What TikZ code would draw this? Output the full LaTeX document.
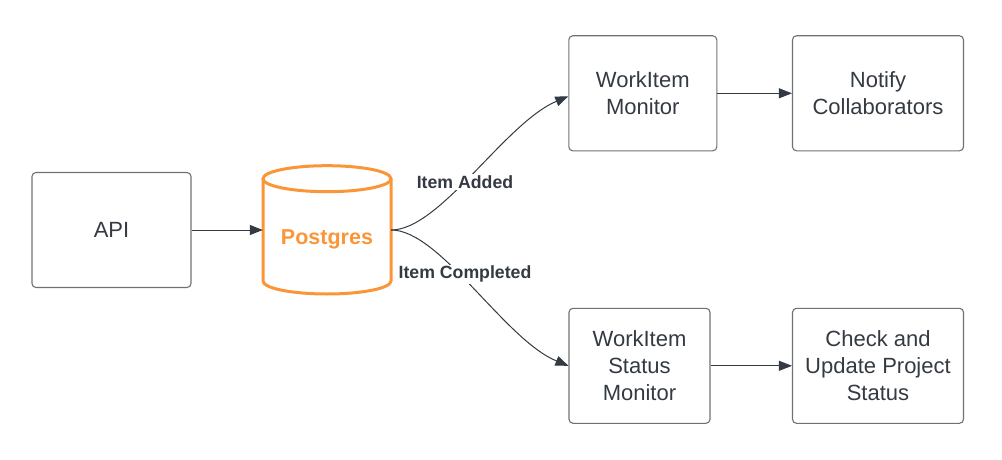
\documentclass[tikz,border=0pt]{standalone}
\usepackage{fontspec}
\setmainfont{Liberation Sans}
\usetikzlibrary{arrows.meta}
\definecolor{pgorange}{RGB}{250,150,55}
\definecolor{ink}{RGB}{52,58,66}
\definecolor{edge}{RGB}{110,114,120}
\begin{document}
\begin{tikzpicture}[x=1pt,y=-1pt,
  >={Triangle[length=13pt,width=10pt]},
  box/.style={draw=edge,line width=1.1pt,rounded corners=4pt,text=ink,align=center,
    font=\fontsize{22}{26.7}\selectfont,inner sep=0pt,minimum height=115pt},
  flow/.style={->,draw=ink,line width=1pt},
  tag/.style={fill=white,text=ink,font=\fontsize{17.7}{20}\selectfont\bfseries,inner sep=1.5pt}]
\useasboundingbox (0,0) rectangle (1002,460);
\node [box,minimum width=159pt] (api) at (111.5,230) {API};
\node [box,minimum width=148pt] (wm) at (642.8,93.3) {WorkItem\\Monitor};
\node [box,minimum width=171pt] (nc) at (878,93.3) {Notify\\Collaborators};
\node [box,minimum width=141pt] (sm) at (639.5,365.8) {WorkItem\\Status\\Monitor};
\node [box,minimum width=171pt] (cu) at (878,365.8) {Check and\\Update Project\\Status};
%
\begin{scope}[draw=pgorange,line width=3pt]
\draw (327,178.7) ellipse (64 and 13);
\draw (263,178.7) -- (263,281) arc (180:0:64 and 13) -- (391,178.7);
\end{scope}
\node [minimum width=128pt,minimum height=129pt,inner sep=0pt] (pg) at (327,230) {};
\node [text=pgorange,font=\fontsize{21.5}{26}\selectfont\bfseries] (pglabel) at (327,239) {Postgres};
%
\draw [flow] (api) -- (pg);
\draw [flow] (pg.east) .. controls (440,230) and (505,123) .. ([yshift=-3pt]wm.west);
\draw [flow] (pg.east) .. controls (440,230) and (505,340) .. (sm.west);
\draw [flow] (wm) -- (nc);
\draw [flow] (sm) -- (cu);
\node [tag] (added) at (465,182.3) {Item Added};
\node [tag] (done) at (465,274.3) {Item Completed};
\end{tikzpicture}
\end{document}
